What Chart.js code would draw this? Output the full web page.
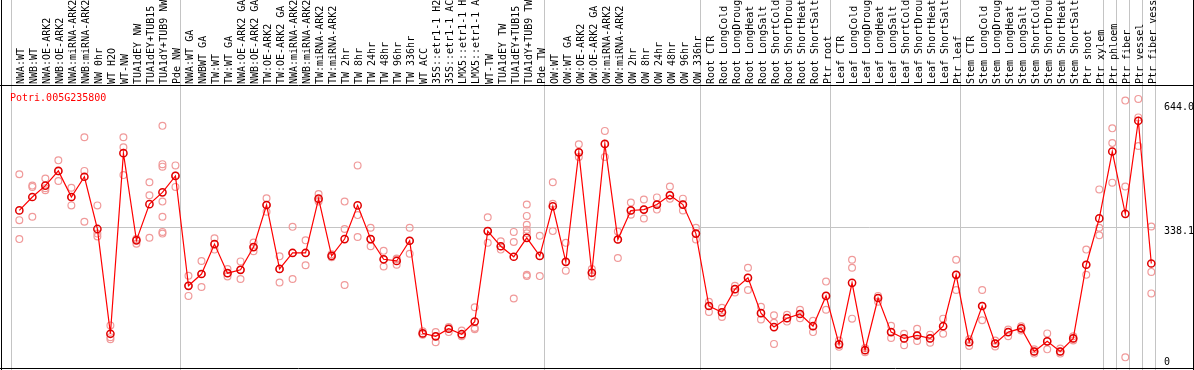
<!DOCTYPE html>
<html lang="en">
<head>
<meta charset="UTF-8">
<title>Potri.005G235800 expression</title>
<script src="https://cdn.jsdelivr.net/npm/chart.js"></script>
<style>
  html, body { margin: 0; padding: 0; background: #fff; }
  #wrap { width: 1194px; height: 370px; }
</style>
</head>
<body>
<div id="wrap"><canvas id="exprChart" width="1194" height="370"></canvas></div>
<script>
// gene shown in the plot
const geneName = 'Potri.005G235800';

// sample names (as far as they are visible in the header)
const labels = [
  'NWA:WT', 'NWB:WT', 'NWA:OE-ARK2', 'NWB:OE-ARK2', 'NWA:miRNA-ARK2', 'NWB:miRNA-ARK2',
  'NW 0hr', 'WT H2O', 'WT-NW', 'TUA1dEY NW', 'TUA1dEY+TUB15', 'TUA1dY+TUB9 NW', 'Pde NW',
  'NWA:WT GA', 'NWBWT GA', 'TW:WT', 'TW:WT GA', 'NWA:OE-ARK2 GA', 'NWB:OE-ARK2 GA',
  'TW:OE-ARK2', 'TW:OE-ARK2 GA', 'NWA:miRNA-ARK2', 'NWB:miRNA-ARK2', 'TW:miRNA-ARK2',
  'TW:miRNA-ARK2', 'TW 2hr', 'TW 8hr', 'TW 24hr', 'TW 48hr', 'TW 96hr', 'TW 336hr',
  'WT ACC', '35S::etr1-1 H2', '35S::etr1-1 AC', 'LMX5::etr1-1 H', 'LMX5::etr1-1 A',
  'WT-TW', 'TUA1dEY TW', 'TUA1dEY+TUB15', 'TUA1dY+TUB9 TW', 'Pde TW',
  'OW:WT', 'OW:WT GA', 'OW:OE-ARK2', 'OW:OE-ARK2 GA', 'OW:miRNA-ARK2', 'OW:miRNA-ARK2',
  'OW 2hr', 'OW 8hr', 'OW 24hr', 'OW 48hr', 'OW 96hr', 'OW 336hr',
  'Root CTR', 'Root LongCold', 'Root LongDroug', 'Root LongHeat', 'Root LongSalt',
  'Root ShortCold', 'Root ShortDrou', 'Root ShortHeat', 'Root ShortSalt', 'Ptr root',
  'Leaf CTR', 'Leaf LongCold', 'Leaf LongDroug', 'Leaf LongHeat', 'Leaf LongSalt',
  'Leaf ShortCold', 'Leaf ShortDrou', 'Leaf ShortHeat', 'Leaf ShortSalt', 'Ptr leaf',
  'Stem CTR', 'Stem LongCold', 'Stem LongDroug', 'Stem LongHeat', 'Stem LongSalt',
  'Stem ShortCold', 'Stem ShortDrou', 'Stem ShortHeat', 'Stem ShortSalt',
  'Ptr shoot', 'Ptr xylem', 'Ptr phloem', 'Ptr fiber', 'Ptr vessel', 'Ptr fiber vess'
];

// mean expression per sample
const means = [
  379, 411, 438, 473, 411, 459, 335, 86, 515, 308, 394, 422, 461,
  200, 228, 299, 230, 238, 292, 392, 240, 278, 278, 407, 271, 311, 391, 311, 263, 259, 307,
  87, 80, 98, 85, 115, 330, 294, 269, 314, 271,
  389, 257, 517, 231, 537, 310, 379, 381, 393, 415, 393, 324,
  152, 137, 192, 219, 135, 102, 123, 133, 104, 176,
  61, 207, 47, 171, 90, 75, 82, 75, 104, 226,
  66, 152, 63, 90, 99, 44, 68, 44, 75,
  250, 360, 519, 371, 592, 253
];

// single replicates per sample
const reps = [
  [465, 356, 311], [438, 435, 364], [455, 432, 427], [498, 472, 449], [433, 410, 391],
  [553, 473, 352], [391, 324, 317], [106, 78, 73], [553, 529, 463], [312, 310, 300],
  [446, 415, 314], [580, 489, 483, 400, 364, 328, 324], [486, 462, 435],
  [224, 200, 176], [259, 228, 197], [313, 299, 286], [240, 230, 222], [258, 238, 216],
  [303, 292, 282], [408, 392, 376], [270, 240, 208], [340, 278, 216], [308, 278, 249],
  [418, 404, 400], [275, 271, 268], [400, 335, 202], [486, 368, 316], [338, 311, 294],
  [283, 263, 246], [263, 265, 250], [338, 307, 276],
  [92, 86, 84], [90, 80, 66], [102, 98, 90], [94, 82, 80], [149, 100, 97],
  [363, 330, 302], [306, 294, 286], [328, 304, 170], [393, 366, 345, 333, 325, 226, 223],
  [319, 271, 223],
  [446, 395, 330], [302, 257, 236], [536, 517, 506], [240, 231, 222], [568, 537, 506],
  [329, 310, 266], [398, 379, 369], [405, 381, 360], [410, 393, 381], [436, 415, 407],
  [407, 393, 379], [338, 324, 310],
  [162, 152, 138], [148, 137, 126], [200, 192, 184], [243, 219, 190], [150, 135, 120],
  [130, 112, 62], [131, 123, 115], [143, 133, 123], [117, 104, 90], [210, 176, 143],
  [70, 61, 55], [262, 243, 122], [52, 47, 42], [176, 171, 162], [105, 90, 76],
  [86, 75, 59], [98, 82, 69], [84, 75, 65], [122, 104, 86], [262, 226, 190],
  [73, 66, 57], [190, 152, 118], [70, 63, 56], [96, 90, 80], [104, 99, 94],
  [49, 44, 39], [87, 68, 49], [51, 44, 39], [80, 75, 70],
  [286, 250, 226], [429, 338, 320], [574, 539, 445], [640, 436, 30], [644, 600, 532],
  [341, 233, 182]
];

// sample indices where a new tissue block starts (vertical separators)
const groupEdges = [0, 13, 41, 53, 63, 73, 84, 85, 86, 87, 88];

// y axis: labelled values, the grey reference line and the top of the range
const yTicks = [644.0, 338.1, 0];
const refLine = 338.1;
const yMax = 677;

const gridGrey = '#c4c4c4';
const monoFont = '"DejaVu Sans Mono", "Liberation Mono", monospace';

// markers sit a little right of the category centre in the original
const markShift = 0.14;

const meanPoints = means.map((v, i) => ({ x: i, y: v }));
const repPoints = [];
reps.forEach((vals, i) => vals.forEach(v => repPoints.push({ x: i, y: v })));

// black frame, gene name and right-hand value labels
const frameAndText = {
  id: 'frameAndText',
  afterDraw(chart) {
    const { ctx, chartArea, width, height } = chart;
    const yScale = chart.scales.y;
    ctx.save();
    ctx.strokeStyle = '#000';
    ctx.lineWidth = 1;
    ctx.beginPath();
    ctx.moveTo(0, chartArea.top + 0.5);
    ctx.lineTo(width, chartArea.top + 0.5);
    ctx.moveTo(1.5, 0);
    ctx.lineTo(1.5, height);
    ctx.moveTo(width - 0.5, 0);
    ctx.lineTo(width - 0.5, height);
    ctx.moveTo(0, height - 1.5);
    ctx.lineTo(width, height - 1.5);
    ctx.stroke();

    ctx.font = '10px ' + monoFont;
    ctx.textAlign = 'left';
    ctx.textBaseline = 'top';
    ctx.fillStyle = '#ff0000';
    ctx.fillText(geneName, chartArea.left - 1, chartArea.top + 8);

    ctx.textBaseline = 'middle';
    ctx.fillStyle = '#000';
    yTicks.forEach(v => {
      let py = yScale.getPixelForValue(v) + 4;
      py = Math.max(chartArea.top + 22, Math.min(py, chartArea.bottom - 8));
      ctx.fillText(v === 0 ? '0' : v.toFixed(1), chartArea.right + 8, py);
    });
    ctx.restore();
  }
};

const ctx = document.getElementById('exprChart').getContext('2d');
new Chart(ctx, {
  type: 'line',
  data: {
    labels: labels,
    datasets: [
      {
        label: 'mean',
        data: meanPoints,
        xAxisID: 'xp',
        borderColor: '#ff0000',
        borderWidth: 1.2,
        pointRadius: 3.6,
        pointBorderWidth: 1.5,
        pointBorderColor: '#e00000',
        pointBackgroundColor: 'rgba(0,0,0,0)',
        tension: 0,
        order: 0
      },
      {
        label: 'replicates',
        data: repPoints,
        xAxisID: 'xp',
        showLine: false,
        pointRadius: 3.4,
        pointBorderWidth: 1.2,
        pointBorderColor: '#f09a9a',
        pointBackgroundColor: 'rgba(0,0,0,0)',
        order: 1
      }
    ]
  },
  options: {
    responsive: false,
    animation: false,
    events: [],
    layout: { autoPadding: false, padding: { left: 11, right: 0, top: 0, bottom: 0 } },
    plugins: {
      legend: { display: false },
      tooltip: { enabled: false }
    },
    scales: {
      x: {
        type: 'category',
        position: 'top',
        offset: true,
        grid: {
          offset: true,
          drawTicks: true,
          tickLength: 85,
          lineWidth: 1,
          color: c => (c.index === undefined || groupEdges.includes(c.index)) ? gridGrey : 'rgba(0,0,0,0)'
        },
        border: { display: false },
        ticks: {
          autoSkip: false,
          minRotation: 90,
          maxRotation: 90,
          padding: -84,
          labelOffset: 16,
          color: '#000',
          font: { family: monoFont, size: 10 }
        },
        afterFit: s => { s.height = 85; }
      },
      xp: {
        type: 'linear',
        display: false,
        min: -0.5 - markShift,
        max: labels.length - 0.5 - markShift
      },
      y: {
        position: 'right',
        min: 0,
        max: yMax,
        afterBuildTicks: s => { s.ticks = yTicks.map(v => ({ value: v })); },
        grid: {
          drawTicks: false,
          color: c => (c.tick && c.tick.value === refLine) ? gridGrey : 'rgba(0,0,0,0)'
        },
        border: { display: false },
        ticks: { display: false },
        afterFit: s => { s.width = 38; }
      }
    }
  },
  plugins: [frameAndText]
});
</script>
</body>
</html>
